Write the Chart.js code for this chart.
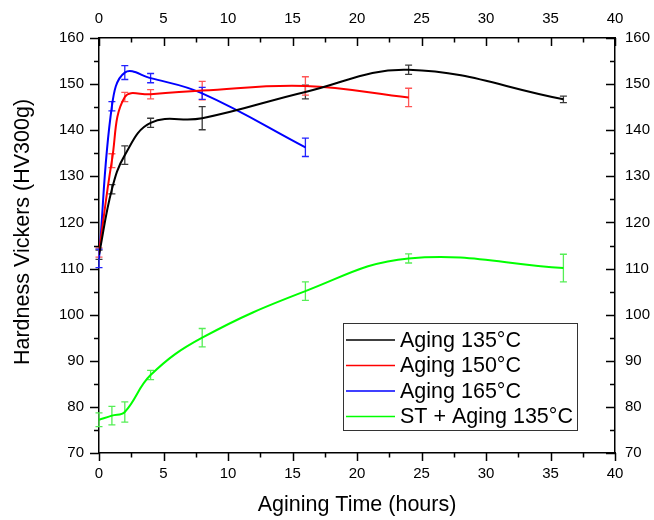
<!DOCTYPE html>
<html>
<head>
<meta charset="utf-8">
<script src="https://cdn.jsdelivr.net/npm/chart.js@4/dist/chart.umd.min.js"></script>
<style>
  html, body { margin: 0; padding: 0; background: #ffffff; }
  canvas { display: block; }
</style>
</head>
<body>
<canvas id="hardness-chart" width="654" height="520"></canvas>
<script>
/* global Chart */

// Hardness vs. aging time, four aging conditions with error bars.

const SERIES_LABELS = ["Aging 135°C", "Aging 150°C", "Aging 165°C", "ST + Aging 135°C"];
const Y_TITLE = "Hardness Vickers (HV300g)";
const X_TITLE = "Agining Time (hours)";

const hours135 = [0, 1, 2, 4, 8, 16, 24, 36];
const hardness135 = [113, 127.2, 134.6, 141.6, 142.6, 148.3, 153.1, 146.7];
const error135 = [1, 1, 2, 1, 2.5, 1.5, 1, 0.7];

const hours150 = [0, 1, 2, 4, 8, 16, 24];
const hardness150 = [113.5, 133.4, 147.2, 147.8, 148.6, 149.6, 147.1];
const error150 = [1, 1.5, 1, 1, 2, 2, 2];

const hours165 = [0, 1, 2, 4, 8, 16];
const hardness165 = [112.2, 145.2, 152.5, 151.3, 148.0, 136.3];
const error165 = [2, 1, 1.5, 1, 1.3, 2];

const hoursST = [0, 1, 2, 4, 8, 16, 24, 36];
const hardnessST = [77.2, 78.1, 78.9, 86.9, 95.0, 105.1, 112.2, 110.1];
const errorST = [1.5, 2, 2.2, 1, 2, 2, 1, 3];

const LINE_COLORS = ["#000000", "#ff0000", "#0000ff", "#00ff00"];
const BAR_COLORS = ["#3a3a3a", "#ff5555", "#2222ff", "#55ee55"];

const X_TICKS = { min: 0, max: 40, step: 5 };
const Y_TICKS = { min: 70, max: 160, step: 10 };

const FONT = "'Liberation Sans', Arial, sans-serif";

function toPoints(xs, ys) {
  return xs.map((x, i) => ({ x, y: ys[i] }));
}

function makeDataset(index, xs, ys, errs) {
  return {
    label: SERIES_LABELS[index],
    data: toPoints(xs, ys),
    errors: errs,
    barColor: BAR_COLORS[index],
    borderColor: LINE_COLORS[index],
    backgroundColor: LINE_COLORS[index],
    borderWidth: 2,
    pointRadius: 0,
    tension: 0.4,
    fill: false,
  };
}

// vertical error bars with caps, drawn under the lines
const errorBarPlugin = {
  id: "errorBars",
  beforeDatasetsDraw(chart) {
    const { ctx, scales } = chart;
    ctx.save();
    ctx.lineWidth = 1.3;
    chart.data.datasets.forEach((ds) => {
      ctx.strokeStyle = ds.barColor;
      ds.data.forEach((pt, i) => {
        const err = ds.errors[i];
        const px = scales.x.getPixelForValue(pt.x);
        const top = scales.y.getPixelForValue(pt.y + err);
        const bottom = scales.y.getPixelForValue(pt.y - err);
        ctx.beginPath();
        ctx.moveTo(px, top);
        ctx.lineTo(px, bottom);
        ctx.moveTo(px - 3.5, top);
        ctx.lineTo(px + 3.5, top);
        ctx.moveTo(px - 3.5, bottom);
        ctx.lineTo(px + 3.5, bottom);
        ctx.stroke();
      });
    });
    ctx.restore();
  },
};

// major + minor tick marks; left/bottom point out, top/right point in
const tickMarksPlugin = {
  id: "tickMarks",
  afterDraw(chart) {
    const { ctx, scales } = chart;
    const area = chart.chartArea;
    ctx.save();
    ctx.strokeStyle = "#000000";
    ctx.lineWidth = 1.5;
    ctx.beginPath();
    for (let v = X_TICKS.min; v <= X_TICKS.max; v += X_TICKS.step / 2) {
      const len = v % X_TICKS.step === 0 ? 8 : 4.5;
      const px = Math.round(scales.x.getPixelForValue(v)) + 0.5;
      ctx.moveTo(px, area.bottom);
      ctx.lineTo(px, area.bottom + len);
      ctx.moveTo(px, area.top);
      ctx.lineTo(px, area.top + len);
    }
    for (let v = Y_TICKS.min; v <= Y_TICKS.max; v += Y_TICKS.step / 2) {
      const len = v % Y_TICKS.step === 0 ? 9 : 5;
      const py = Math.round(scales.y.getPixelForValue(v)) + 0.5;
      ctx.moveTo(area.left, py);
      ctx.lineTo(area.left - len, py);
      ctx.moveTo(area.right, py);
      ctx.lineTo(area.right - len, py);
    }
    ctx.stroke();
    ctx.restore();
  },
};

// y title sits a bit above the plot centre in the original, so draw it here
const yTitlePlugin = {
  id: "yTitle",
  afterDraw(chart) {
    const { ctx } = chart;
    ctx.save();
    ctx.translate(23.5, 232);
    ctx.rotate(-Math.PI / 2);
    ctx.font = `21.5px ${FONT}`;
    ctx.fillStyle = "#000000";
    ctx.textAlign = "center";
    ctx.textBaseline = "middle";
    ctx.fillText(Y_TITLE, 0, 0);
    ctx.restore();
  },
};

// boxed legend sitting inside the plot, lower right
const boxLegendPlugin = {
  id: "boxLegend",
  afterDraw(chart) {
    const { ctx } = chart;
    const left = 343;
    const top = 323;
    const width = 234;
    const height = 107;
    const rowGap = 25.5;
    ctx.save();
    ctx.fillStyle = "#ffffff";
    ctx.fillRect(left, top, width, height);
    ctx.strokeStyle = "#333333";
    ctx.lineWidth = 1;
    ctx.strokeRect(left + 0.5, top + 0.5, width, height);
    ctx.font = `21.5px ${FONT}`;
    ctx.textBaseline = "middle";
    chart.data.datasets.forEach((ds, i) => {
      const y = top + 17 + i * rowGap;
      ctx.strokeStyle = ds.borderColor;
      ctx.lineWidth = 1.5;
      ctx.beginPath();
      ctx.moveTo(left + 3, y);
      ctx.lineTo(left + 52, y);
      ctx.stroke();
      ctx.fillStyle = "#000000";
      ctx.fillText(ds.label, left + 57, y + 1);
    });
    ctx.restore();
  },
};

function fixWidth(w) {
  return (scale) => { scale.width = w; };
}
function fixHeight(h) {
  return (scale) => { scale.height = h; };
}

const tickFont = { family: FONT, size: 15 };
const titleFont = { family: FONT, size: 21.5 };
const border = { display: true, color: "#000000", width: 1.5 };
const noGrid = { display: false, drawTicks: false };
const numberLabel = (value) => String(value);

new Chart(document.getElementById("hardness-chart"), {
  type: "line",
  data: {
    datasets: [
      makeDataset(0, hours135, hardness135, error135),
      makeDataset(1, hours150, hardness150, error150),
      makeDataset(2, hours165, hardness165, error165),
      makeDataset(3, hoursST, hardnessST, errorST),
    ],
  },
  options: {
    responsive: false,
    animation: false,
    layout: { padding: 0 },
    scales: {
      x: {
        type: "linear",
        position: "bottom",
        min: X_TICKS.min,
        max: X_TICKS.max,
        grid: noGrid,
        border,
        ticks: { stepSize: X_TICKS.step, color: "#000", font: tickFont, padding: 12, maxRotation: 0, callback: numberLabel },
        title: { display: true, text: X_TITLE, color: "#000", font: titleFont, padding: { top: 0, bottom: 2 } },
        afterFit: fixHeight(67),
      },
      x2: {
        type: "linear",
        position: "top",
        min: X_TICKS.min,
        max: X_TICKS.max,
        grid: noGrid,
        border,
        ticks: { stepSize: X_TICKS.step, color: "#000", font: tickFont, padding: 10, maxRotation: 0, callback: numberLabel },
        afterFit: fixHeight(38),
      },
      y: {
        type: "linear",
        position: "left",
        min: Y_TICKS.min,
        max: Y_TICKS.max,
        grid: noGrid,
        border,
        ticks: { stepSize: Y_TICKS.step, color: "#000", font: tickFont, padding: 15, callback: numberLabel },
        afterFit: fixWidth(99),
      },
      y2: {
        type: "linear",
        position: "right",
        min: Y_TICKS.min,
        max: Y_TICKS.max,
        grid: noGrid,
        border,
        ticks: { stepSize: Y_TICKS.step, color: "#000", font: tickFont, padding: 10, callback: numberLabel },
        afterFit: fixWidth(39),
      },
    },
    plugins: {
      legend: { display: false },
      tooltip: { enabled: false },
    },
  },
  plugins: [errorBarPlugin, tickMarksPlugin, yTitlePlugin, boxLegendPlugin],
});
</script>
</body>
</html>
